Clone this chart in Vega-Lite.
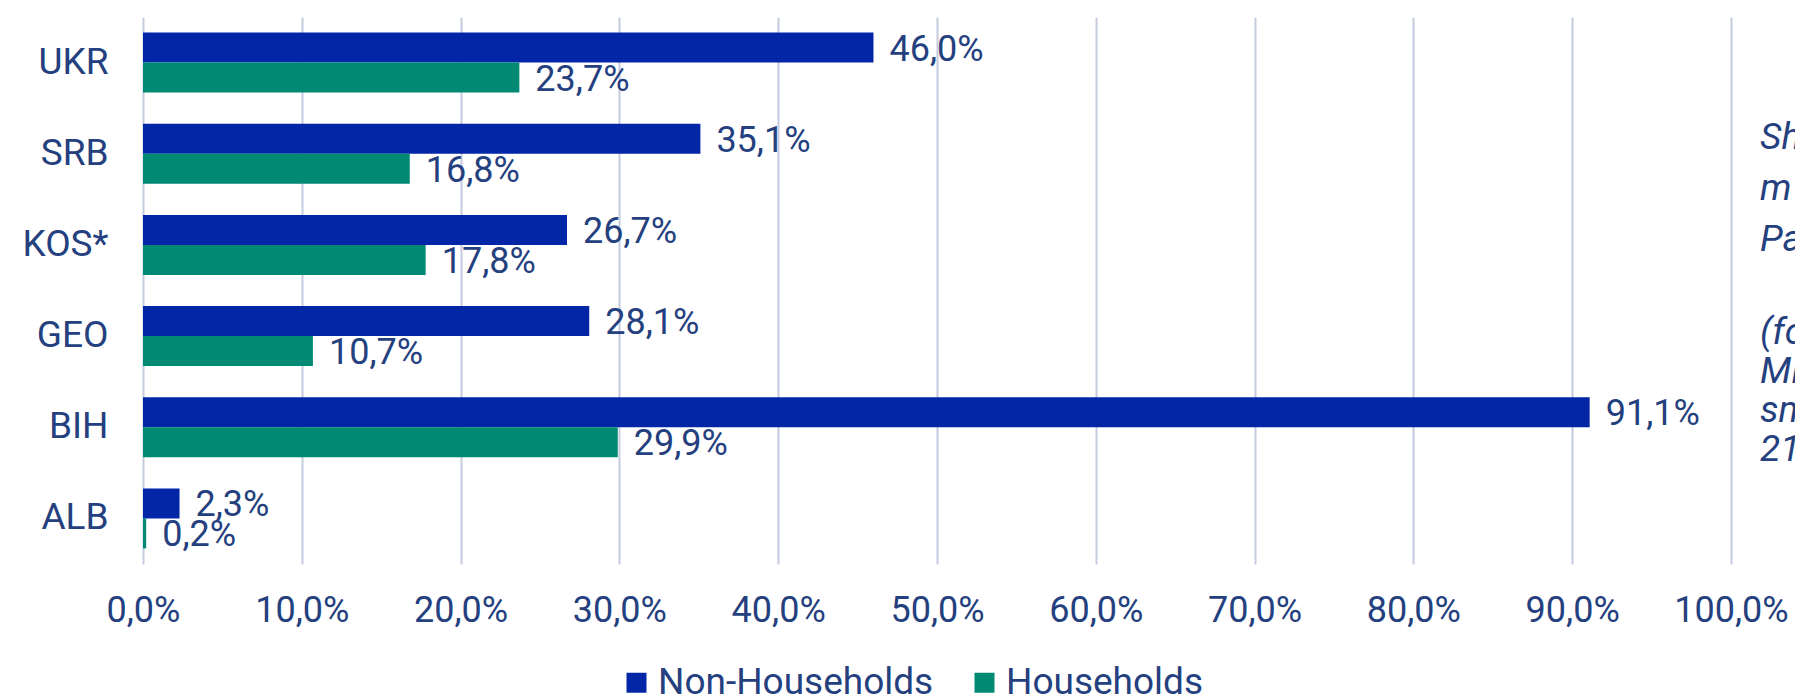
{
  "$schema": "https://vega.github.io/schema/vega-lite/v6.json",
  "width": 1588,
  "height": 547,
  "autosize": {"type": "none"},
  "padding": {"left": 143, "top": 17, "right": 64, "bottom": 131},
  "background": "white",
  "config": {
    "locale": {"number": {"decimal": ",", "thousands": ".", "grouping": [3], "currency": ["", " €"]}},
    "font": "Roboto",
    "view": {"stroke": null}
  },
  "data": {
    "values": [
      {"country": "UKR", "series": "Non-Households", "value": 0.460},
      {"country": "UKR", "series": "Households", "value": 0.237},
      {"country": "SRB", "series": "Non-Households", "value": 0.351},
      {"country": "SRB", "series": "Households", "value": 0.168},
      {"country": "KOS*", "series": "Non-Households", "value": 0.267},
      {"country": "KOS*", "series": "Households", "value": 0.178},
      {"country": "GEO", "series": "Non-Households", "value": 0.281},
      {"country": "GEO", "series": "Households", "value": 0.107},
      {"country": "BIH", "series": "Non-Households", "value": 0.911},
      {"country": "BIH", "series": "Households", "value": 0.299},
      {"country": "ALB", "series": "Non-Households", "value": 0.023},
      {"country": "ALB", "series": "Households", "value": 0.002}
    ]
  },
  "layer": [
    {
      "mark": {"type": "bar"},
      "encoding": {
        "y": {
          "field": "country", "type": "nominal",
          "sort": ["UKR", "SRB", "KOS*", "GEO", "BIH", "ALB"],
          "scale": {"paddingInner": 0.342, "paddingOuter": 0.171},
          "axis": {"title": null, "domain": false, "ticks": false, "labelFontSize": 37, "labelColor": "#24407e", "labelPadding": 35, "labelFont": "Roboto"}
        },
        "yOffset": {
          "field": "series", "type": "nominal",
          "sort": ["Non-Households", "Households"],
          "scale": {"paddingInner": 0, "paddingOuter": 0}
        },
        "x": {
          "field": "value", "type": "quantitative",
          "scale": {"domain": [0, 1], "nice": false},
          "axis": {
            "title": null, "format": ".1%", "values": [0, 0.1, 0.2, 0.3, 0.4, 0.5, 0.6, 0.7, 0.8, 0.9, 1.0],
            "grid": true, "gridColor": "#c5cbdf", "gridWidth": 2, "domain": false, "ticks": false,
            "labelFlush": false, "labelOverlap": false,
            "labelFontSize": 36, "labelColor": "#24407e", "labelPadding": 29, "labelFont": "Roboto"
          }
        },
        "color": {
          "field": "series", "type": "nominal",
          "sort": ["Non-Households", "Households"],
          "scale": {"domain": ["Non-Households", "Households"], "range": ["#0226a6", "#008a73"]},
          "legend": {
            "title": null, "orient": "none", "direction": "horizontal", "legendX": 475, "legendY": 647,
            "symbolType": "square", "symbolSize": 400, "symbolStrokeWidth": 0,
            "labelFontSize": 37, "labelColor": "#24407e", "labelFont": "Roboto", "labelOffset": 3, "columnPadding": 32, "labelLimit": 400
          }
        }
      }
    },
    {
      "mark": {"type": "text", "align": "left", "baseline": "middle", "dx": 16, "dy": 2, "fontSize": 36, "color": "#24407e", "font": "Roboto"},
      "encoding": {
        "y": {"field": "country", "type": "nominal", "sort": ["UKR", "SRB", "KOS*", "GEO", "BIH", "ALB"]},
        "yOffset": {"field": "series", "type": "nominal", "sort": ["Non-Households", "Households"]},
        "x": {"field": "value", "type": "quantitative"},
        "text": {"field": "value", "type": "quantitative", "format": ".1%"}
      }
    },
    {
      "data": {"values": [{"note": "Sh\nm\nPa"}]},
      "mark": {"type": "text", "align": "left", "baseline": "middle", "dy": -16, "fontSize": 37, "fontStyle": "italic", "color": "#24407e", "font": "Roboto", "lineBreak": "\n", "lineHeight": 51},
      "encoding": {
        "x": {"datum": 1.0183},
        "y": {"datum": "SRB"},
        "text": {"field": "note"}
      }
    },
    {
      "data": {"values": [{"note": "(fo\nMi\nsm\n21"}]},
      "mark": {"type": "text", "align": "left", "baseline": "middle", "dy": -3, "fontSize": 37, "fontStyle": "italic", "color": "#24407e", "font": "Roboto", "lineBreak": "\n", "lineHeight": 39},
      "encoding": {
        "x": {"datum": 1.0183},
        "y": {"datum": "GEO"},
        "text": {"field": "note"}
      }
    }
  ]
}
